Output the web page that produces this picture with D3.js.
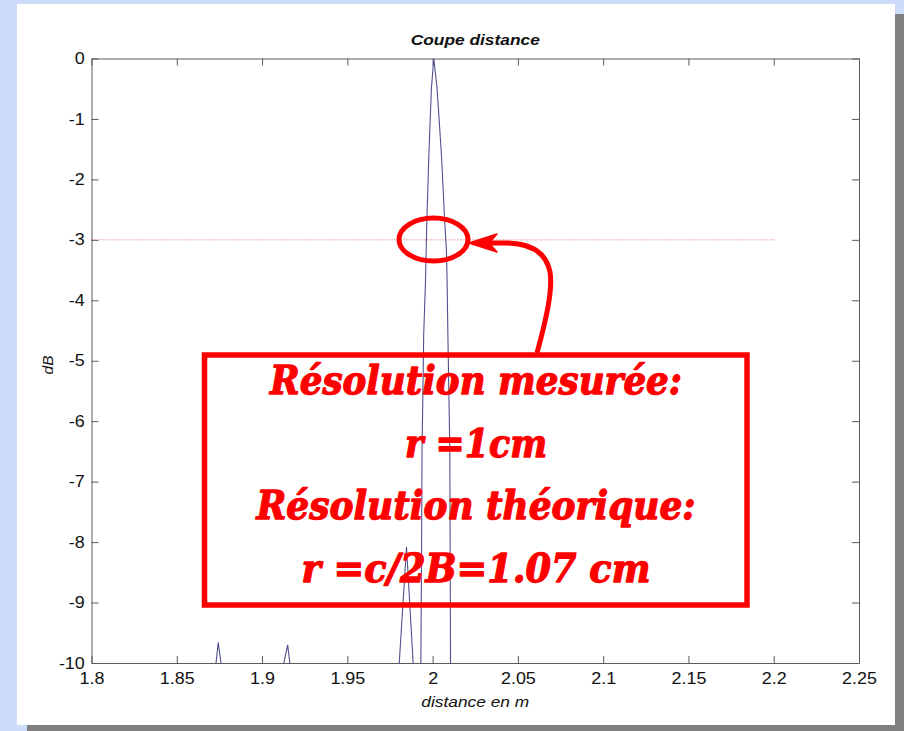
<!DOCTYPE html>
<html><head><meta charset="utf-8">
<script src="https://cdn.jsdelivr.net/npm/d3@7"></script>
<style>body{margin:0;background:#cddcfa;} svg{display:block}</style>
</head><body><svg id="c" width="904" height="731"></svg>
<script>
// ---- data ----
const distance = [1.800, 1.8711, 1.8743, 1.8783, 1.9091, 1.9150, 1.9185, 1.9791, 1.9847, 1.9898,
  1.9928, 1.9931, 1.9935, 1.9938, 1.9948, 1.9958, 1.9966, 1.9978, 1.9993, 2.0007,
  2.0026, 2.0052, 2.0071, 2.0081, 2.0085, 2.0091, 2.0096, 2.0101, 2.0103, 2.0105, 2.0108, 2.25];
const dB = [-11, -10.5, -9.66, -10.5, -10.5, -9.70, -10.5, -10.6, -8.08, -10.6,
  -11, -10.0, -8.30, -6.48, -4.54, -3.71, -2.70, -1.60, -0.49, 0,
  -0.49, -1.60, -2.70, -3.17, -3.71, -4.82, -5.65, -6.48, -8.30, -10.0, -11, -11];
const thresholdDistance = [1.8, 2.2];
const thresholdDB = [-3, -3];
const xTicks = [1.8, 1.85, 1.9, 1.95, 2.0, 2.05, 2.1, 2.15, 2.2, 2.25];
const xTickLabels = ["1.8", "1.85", "1.9", "1.95", "2", "2.05", "2.1", "2.15", "2.2", "2.25"];
const yTicks = [0, -1, -2, -3, -4, -5, -6, -7, -8, -9, -10];
const yTickLabels = ["0", "-1", "-2", "-3", "-4", "-5", "-6", "-7", "-8", "-9", "-10"];
const title = "Coupe distance";
const xTitle = "distance en m";
const yTitle = "dB";
const annotationLines = ["Résolution mesurée:", "r =1cm", "Résolution théorique:", "r =c/2B=1.07 cm"];

// ---- layout ----
const svg = d3.select("#c");
const L = 91.5, R = 859, T = 58.5, B = 663;
const SX = 1.12;
const x = d3.scaleLinear().domain([1.8, 2.25]).range([L, R]);
const y = d3.scaleLinear().domain([-10, 0]).range([B, T]);

// background panel with shadow
svg.append("rect").attr("x", 27).attr("y", 14).attr("width", 890).attr("height", 730).attr("fill", "#808080");
svg.append("rect").attr("x", 17).attr("y", 4).attr("width", 878).attr("height", 721).attr("fill", "#ffffff");

const font = "'Liberation Sans', Arial, sans-serif";
function styleAxis(g) {
  g.selectAll("path.domain").attr("stroke", "#5a5a5a").attr("stroke-width", 1);
  g.selectAll(".tick line").attr("stroke", "#5a5a5a").attr("stroke-width", 1);
  g.selectAll(".tick text").attr("fill", "#111").style("font-family", font).style("font-size", "16px");
}
const gx = svg.append("g").attr("transform", `translate(0,${B})`)
  .call(d3.axisBottom(x).tickValues(xTicks).tickFormat((d, i) => xTickLabels[i]).tickSizeInner(-7).tickSizeOuter(0).tickPadding(10));
styleAxis(gx);
gx.selectAll(".tick text").attr("transform", `scale(${SX},1)`);
const gy = svg.append("g").attr("transform", `translate(${L},0)`)
  .call(d3.axisLeft(y).tickValues(yTicks).tickFormat((d, i) => yTickLabels[i]).tickSizeInner(-7).tickSizeOuter(0).tickPadding(6));
styleAxis(gy);
gy.selectAll(".tick text").attr("transform", `scale(${SX},1)`);
const gt = svg.append("g").attr("transform", `translate(0,${T})`)
  .call(d3.axisTop(x).tickValues(xTicks).tickFormat("").tickSizeInner(-7).tickSizeOuter(0));
styleAxis(gt);
const gr = svg.append("g").attr("transform", `translate(${R},0)`)
  .call(d3.axisRight(y).tickValues(yTicks).tickFormat("").tickSizeInner(-7).tickSizeOuter(0));
styleAxis(gr);

// clip
svg.append("clipPath").attr("id", "clip").append("rect")
  .attr("x", L).attr("y", T).attr("width", R - L).attr("height", B - T);

// threshold dotted line
const thr = thresholdDistance.map((d, i) => [d, thresholdDB[i]]);
svg.append("path").datum(thr)
  .attr("d", d3.line().x(d => x(d[0])).y(d => y(d[1])))
  .attr("fill", "none").attr("stroke", "#e05050").attr("stroke-width", 1).attr("stroke-dasharray", "1,2");

// curve
const pts = distance.map((d, i) => [d, dB[i]]);
svg.append("path").datum(pts).attr("clip-path", "url(#clip)")
  .attr("d", d3.line().x(d => x(d[0])).y(d => y(d[1])))
  .attr("fill", "none").attr("stroke", "#50508f").attr("stroke-width", 1.1);

// titles
svg.append("text").attr("transform", `translate(${(L + R) / 2},45) scale(${SX},1)`)
  .attr("text-anchor", "middle").style("font-family", font).style("font-size", "15.5px")
  .style("font-weight", "bold").style("font-style", "italic").attr("fill", "#111").text(title);
svg.append("text").attr("transform", `translate(${(L + R) / 2},707) scale(${SX},1)`)
  .attr("text-anchor", "middle").style("font-family", font).style("font-size", "15.5px")
  .style("font-style", "italic").attr("fill", "#111").text(xTitle);
svg.append("text").attr("transform", `translate(53,365) rotate(-90)`)
  .attr("text-anchor", "middle").style("font-family", font).style("font-size", "15.5px")
  .style("font-style", "italic").attr("fill", "#111").text(yTitle);

// annotations
const red = "#ff0000";
svg.append("ellipse").attr("cx", 433.5).attr("cy", 239.5).attr("rx", 34.5).attr("ry", 21.5)
  .attr("fill", "none").attr("stroke", red).attr("stroke-width", 5);
svg.append("path").attr("d", "M537,353 C546,320 553,290 550,272 C546,252 530,243 505,243 L488,243")
  .attr("fill", "none").attr("stroke", red).attr("stroke-width", 5);
svg.append("path").attr("d", "M469,243 L497,234 L489,243 L497,252 Z").attr("fill", red)
  .attr("stroke", red).attr("stroke-width", 1.5).attr("stroke-linejoin", "round");
svg.append("rect").attr("x", 204.5).attr("y", 355).attr("width", 542.5).attr("height", 250)
  .attr("fill", "none").attr("stroke", red).attr("stroke-width", 5.5);
const lineY = [394, 457, 519, 582];
const lineW = [412, 142, 439, 349];
annotationLines.forEach((t, i) => {
  svg.append("text").attr("x", 476).attr("y", lineY[i]).attr("text-anchor", "middle")
    .attr("textLength", lineW[i]).attr("lengthAdjust", "spacingAndGlyphs")
    .style("font-family", "'DejaVu Serif', serif").style("font-size", "39px")
    .style("font-weight", "bold").style("font-style", "italic").attr("fill", red)
    .attr("stroke", red).attr("stroke-width", 1.3).attr("stroke-linejoin", "round").text(t);
});
</script></body></html>
